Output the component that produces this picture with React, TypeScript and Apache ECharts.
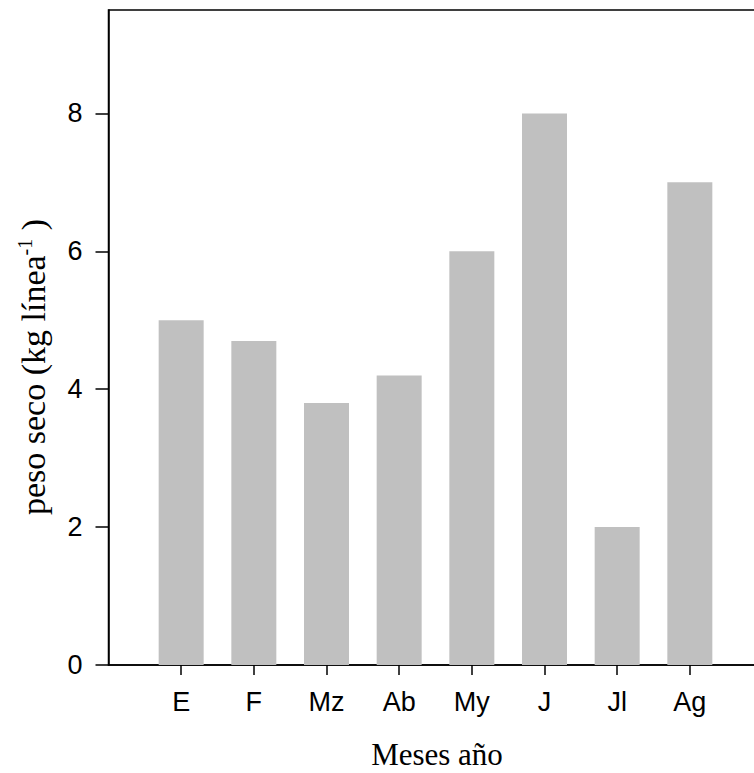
import React, { useEffect, useRef } from "react";
import * as echarts from "echarts";

const months = ["E", "F", "Mz", "Ab", "My", "J", "Jl", "Ag"];
const pesoSeco = [5, 4.7, 3.8, 4.2, 6, 8, 2, 7];
const yTicks = [0, 2, 4, 6, 8];

export default function App() {
  const ref = useRef<HTMLDivElement>(null);
  useEffect(() => {
    if (!ref.current) return;
    const chart = echarts.init(ref.current, null, { renderer: "svg" });
    const cats = ["", ...months, ""];
    const vals = [null, ...pesoSeco, null];
    const sans = "'Liberation Sans', Arial, sans-serif";
    const serif = "'Liberation Serif', 'Times New Roman', serif";
    chart.setOption({
      animation: false,
      backgroundColor: "#ffffff",
      grid: {
        left: 108.5,
        top: 10,
        width: 654,
        height: 655,
        show: true,
        borderColor: "#000",
        borderWidth: 1.5,
        containLabel: false,
      },
      xAxis: {
        type: "category",
        data: cats,
        boundaryGap: false,
        axisLine: { lineStyle: { color: "#000", width: 1.5 } },
        axisTick: {
          alignWithLabel: true,
          length: 10,
          lineStyle: { color: "#000", width: 1.5 },
          interval: (i: number) => i > 0 && i <= months.length,
        },
        axisLabel: {
          interval: 0,
          color: "#000",
          fontFamily: sans,
          fontSize: 27,
          margin: 23,
        },
        splitLine: { show: false },
      },
      yAxis: {
        type: "value",
        min: 0,
        max: 9.5,
        axisLine: { show: true, lineStyle: { color: "#000", width: 1.5 } },
        axisTick: {
          show: true,
          length: 13,
          lineStyle: { color: "#000", width: 1.5 },
          customValues: yTicks,
        },
        axisLabel: {
          color: "#000",
          fontFamily: sans,
          fontSize: 27,
          margin: 26,
          customValues: yTicks,
        },
        splitLine: { show: false },
      },
      series: [
        {
          type: "bar",
          data: vals,
          barWidth: 45,
          itemStyle: { color: "#c0c0c0" },
        },
      ],
      graphic: [
        {
          type: "text",
          x: 437,
          y: 754,
          style: {
            text: "Meses año",
            fontFamily: serif,
            fontSize: 31,
            fill: "#000",
            align: "center",
            verticalAlign: "middle",
          },
        },
        {
          type: "text",
          x: 33,
          y: 367,
          rotation: Math.PI / 2,
          style: {
            text: "peso seco (kg línea{sup|-1} )",
            fontFamily: serif,
            fontSize: 34,
            fill: "#000",
            align: "center",
            verticalAlign: "middle",
            rich: {
              sup: {
                fontFamily: serif,
                fontSize: 20,
                fill: "#000",
                padding: [0, 0, 16, 0],
              },
            },
          },
        },
      ],
    });
    return () => chart.dispose();
  }, []);
  return (
    <div
      style={{
        position: "absolute",
        left: 0,
        top: 0,
        width: 754,
        height: 773,
        overflow: "hidden",
        background: "#fff",
      }}
    >
      <div ref={ref} style={{ width: 780, height: 773 }} />
    </div>
  );
}
